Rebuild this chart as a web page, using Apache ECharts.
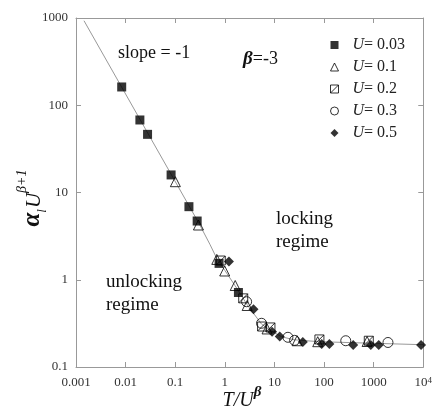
<!DOCTYPE html>
<html>
<head>
<meta charset="utf-8">
<script src="https://cdn.jsdelivr.net/npm/echarts@6/dist/echarts.min.js"></script>
<style>
  html, body { margin: 0; padding: 0; background: #fff; }
  #chart { width: 435px; height: 418px; }
</style>
</head>
<body>
<div id="chart"></div>
<script>
// data, x = T/U^beta, y = alpha_l U^(beta+1)
var u003X = [0.00834, 0.0194, 0.0277, 0.0826, 0.189, 0.277, 0.766, 1.88];
var u003Y = [162, 67.8, 46.4, 15.9, 6.88, 4.71, 1.54, 0.714];

var u01X = [0.1007, 0.294, 0.689, 0.995, 1.62, 2.82, 7.10, 28.6, 74.6, 738];
var u01Y = [13.3, 4.24, 1.71, 1.26, 0.859, 0.507, 0.273, 0.200, 0.195, 0.196];

var u02X = [0.828, 2.35, 5.64, 8.31, 80.7, 798];
var u02Y = [1.66, 0.612, 0.291, 0.284, 0.207, 0.200];

var u03X = [2.75, 5.49, 18.7, 25.5, 274, 1945];
var u03Y = [0.560, 0.317, 0.219, 0.202, 0.200, 0.191];

var u05X = [1.21, 3.79, 8.95, 12.8, 37.3, 89.7, 128, 387, 876, 1267, 9040];
var u05Y = [1.62, 0.458, 0.254, 0.223, 0.194, 0.184, 0.184, 0.179, 0.179, 0.179, 0.179];

// gray guide curve
var curveX = [0.00145, 0.3, 0.5, 0.69, 1.0, 1.6, 2.8, 5.5, 9, 14, 25, 80, 1000, 10000];
var curveY = [930, 4.45, 2.55, 1.75, 1.28, 0.86, 0.52, 0.31, 0.255, 0.222, 0.205, 0.195, 0.187, 0.18];

var xTicks = ['0.001', '0.01', '0.1', '1', '10', '100', '1000', '{b|10}{s|4}'];
var yTicks = ['0.1', '1', '10', '100', '1000'];
var uValues = ['0.03', '0.1', '0.2', '0.3', '0.5'];

var serif = '"Liberation Serif", "DejaVu Serif", serif';
var axisGray = '#999';

function pairs(xs, ys) {
    var out = [];
    for (var i = 0; i < xs.length; i++) {
        out.push([xs[i], ys[i]]);
    }
    return out;
}

var chart = echarts.init(document.getElementById('chart'));

var openStyle = { color: 'rgba(255,255,255,0)', borderColor: '#000', borderWidth: 1 };
var fillStyle = { color: '#000' };

function scatter(name, xs, ys, symbol, size, style) {
    return {
        name: name,
        type: 'scatter',
        data: pairs(xs, ys),
        symbol: symbol,
        symbolSize: size,
        itemStyle: style,
        emphasis: { disabled: true },
        z: 3
    };
}

var baseAxis = {
    type: 'log',
    logBase: 10,
    axisLine: { show: true, lineStyle: { color: axisGray, width: 1 } },
    axisTick: { show: true, inside: true, length: 5, lineStyle: { color: axisGray } },
    minorTick: { show: false },
    splitLine: { show: false }
};

var option = {
    animation: false,
    backgroundColor: '#fff',
    grid: { left: 76, right: 10, top: 18, bottom: 51 },
    xAxis: [
        echarts.util.merge({
            min: 0.001, max: 10000, position: 'bottom',
            axisLabel: {
                margin: 9,
                fontFamily: serif, fontSize: 13, color: '#333',
                formatter: function (v) {
                    var k = Math.round(Math.log10(v)) + 3;
                    return xTicks[k];
                },
                rich: {
                    b: { fontFamily: serif, fontSize: 13, color: '#333' },
                    s: { fontFamily: serif, fontSize: 9, color: '#333', verticalAlign: 'top' }
                }
            }
        }, baseAxis, true),
        echarts.util.merge({
            min: 0.001, max: 10000, position: 'top',
            axisLabel: { show: false }
        }, baseAxis, true)
    ],
    yAxis: [
        echarts.util.merge({
            min: 0.1, max: 1000, position: 'left',
            axisLabel: {
                margin: 8,
                fontFamily: serif, fontSize: 13, color: '#333',
                formatter: function (v) {
                    var k = Math.round(Math.log10(v)) + 1;
                    return yTicks[k];
                }
            }
        }, baseAxis, true),
        echarts.util.merge({
            min: 0.1, max: 1000, position: 'right',
            axisLabel: { show: false }
        }, baseAxis, true)
    ],
    legend: {
        orient: 'vertical',
        left: 325,
        top: 32,
        itemWidth: 8,
        itemHeight: 8,
        itemGap: 6,
        selectedMode: false,
        data: uValues,
        itemStyle: { borderWidth: 1 },
        formatter: function (name) {
            return '{i|U}{n|= ' + name + '}';
        },
        textStyle: {
            fontFamily: serif, fontSize: 16, color: '#222', lineHeight: 16,
            rich: {
                i: { fontFamily: serif, fontSize: 16, fontStyle: 'italic', color: '#222', padding: [0, 0, 0, 9] },
                n: { fontFamily: serif, fontSize: 16, color: '#222' }
            }
        }
    },
    series: [
        {
            name: 'curve',
            type: 'line',
            data: pairs(curveX, curveY),
            showSymbol: false,
            symbol: 'none',
            lineStyle: { color: '#999', width: 1 },
            emphasis: { disabled: true },
            z: 1
        },
        scatter(uValues[0], u003X, u003Y, 'rect', 9, fillStyle),
        scatter(uValues[1], u01X, u01Y, 'triangle', 10, openStyle),
        scatter(uValues[2], u02X, u02Y, 'path://M0,0H10V10H0ZM0,10L10,0', 9, openStyle),
        scatter(uValues[3], u03X, u03Y, 'circle', 10, openStyle),
        scatter(uValues[4], u05X, u05Y, 'diamond', 10, fillStyle)
    ],
    graphic: [
        {
            type: 'text', left: 118, top: 44,
            style: { text: 'slope = -1', font: '18px ' + serif, fill: '#111' }
        },
        {
            type: 'text', left: 243, top: 50,
            style: {
                text: '{b|β}{n|=-3}',
                rich: {
                    b: { font: 'bold italic 19px ' + serif, fill: '#111' },
                    n: { font: '18px ' + serif, fill: '#111' }
                }
            }
        },
        {
            type: 'text', left: 276, top: 208,
            style: { text: 'locking\nregime', font: '19px ' + serif, lineHeight: 23, fill: '#111' }
        },
        {
            type: 'text', left: 106, top: 271,
            style: { text: 'unlocking\nregime', font: '19px ' + serif, lineHeight: 23, fill: '#111' }
        },
        {
            // x axis title
            type: 'text', x: 242, y: 398,
            style: {
                text: '{m|T/U}{s|β}',
                align: 'center', verticalAlign: 'middle',
                rich: {
                    m: { font: 'italic 20px ' + serif, fill: '#111', lineHeight: 26, verticalAlign: 'bottom' },
                    s: { font: 'italic bold 15px ' + serif, fill: '#111', verticalAlign: 'top' }
                }
            }
        },
        {
            // y axis title, rotated
            type: 'text', x: 30, y: 198, rotation: Math.PI / 2,
            style: {
                text: '{a|α}{l|l}{m|U}{s|β+1}',
                align: 'center', verticalAlign: 'middle',
                rich: {
                    a: { font: 'italic bold 25px ' + serif, fill: '#111', lineHeight: 30, verticalAlign: 'bottom' },
                    l: { font: 'italic 13px ' + serif, fill: '#111', verticalAlign: 'bottom', padding: [0, 1, -4, 0] },
                    m: { font: 'italic 21px ' + serif, fill: '#111', verticalAlign: 'bottom' },
                    s: { font: 'italic 14px ' + serif, fill: '#111', verticalAlign: 'top' }
                }
            }
        }
    ]
};

chart.setOption(option);
</script>
</body>
</html>
